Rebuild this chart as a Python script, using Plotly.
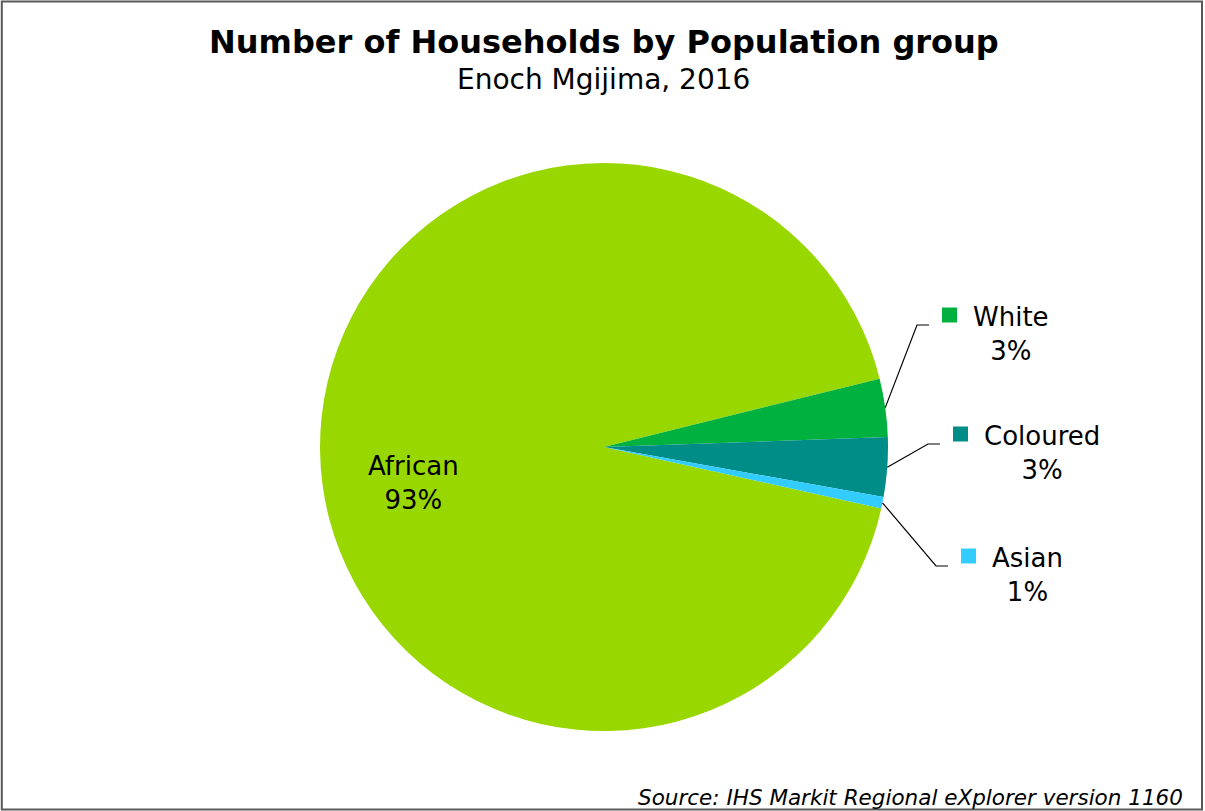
import math
import plotly.graph_objects as go

# ---------------- data ----------------
GROUPS = ["African", "White", "Coloured", "Asian"]
SHARES = [92.66, 3.31, 3.38, 0.65]          # % of households
COLORS = ["#99D700", "#00B140", "#008C87", "#33CCFF"]
TITLE = "Number of Households by Population group"
SUBTITLE = "Enoch Mgijima, 2016"
SOURCE = "Source: IHS Markit Regional eXplorer version 1160"

# ---------------- layout constants (pixels) ----------------
W, H = 1205, 811
CX, CY, R = 604, 447, 284
ROTATION = 102.5
LABEL_END = {"White": (929, 325), "Coloured": (940, 444), "Asian": (948, 566)}
INSIDE_LABEL = {"African": (413, 483)}
FONT = "Verdana, DejaVu Sans, sans-serif"
LABEL_SIZE = 26


def px(x):
    return x / W


def py(y):
    return 1 - y / H


total = sum(SHARES)
pct = [f"{round(v / total * 100):.0f}%" for v in SHARES]

fig = go.Figure()
fig.add_trace(go.Pie(
    labels=GROUPS,
    values=SHARES,
    marker=dict(colors=COLORS, line=dict(width=0)),
    sort=False,
    direction="clockwise",
    rotation=ROTATION,
    textinfo="none",
    hoverinfo="label+percent",
    showlegend=False,
    domain=dict(x=[px(CX - R), px(CX + R)], y=[py(CY + R), py(CY - R)]),
))

shapes = []
annotations = []

# slice angles (clockwise from 12 o'clock)
angle = ROTATION
for name, v, col, p in zip(GROUPS, SHARES, COLORS, pct):
    span = 360 * v / total
    mid = math.radians(angle + span / 2)
    angle += span
    if name in LABEL_END:
        xe, ye = LABEL_END[name]
        ax = CX + R * math.sin(mid)
        ay = CY - R * math.cos(mid)
        path = (f"M {px(ax)},{py(ay)} L {px(xe - 12)},{py(ye)} L {px(xe)},{py(ye)}")
        shapes.append(dict(type="path", xref="paper", yref="paper", path=path,
                           line=dict(color="#000000", width=1.2)))
        shapes.append(dict(type="rect", xref="paper", yref="paper",
                           x0=px(xe + 13), x1=px(xe + 28),
                           y0=py(ye - 2.5), y1=py(ye - 17.5),
                           fillcolor=col, line=dict(width=0)))
        annotations.append(dict(xref="paper", yref="paper", x=px(xe + 42), y=py(ye + 9),
                                xanchor="left", yanchor="middle", align="center",
                                text=f"{name}<br>{p}", showarrow=False,
                                font=dict(family=FONT, size=LABEL_SIZE, color="#000000")))
    elif name in INSIDE_LABEL:
        lx, ly = INSIDE_LABEL[name]
        annotations.append(dict(xref="paper", yref="paper", x=px(lx), y=py(ly),
                                xanchor="center", yanchor="middle", align="center",
                                text=f"{name}<br>{p}", showarrow=False,
                                font=dict(family=FONT, size=LABEL_SIZE, color="#000000")))

# titles
annotations.append(dict(xref="paper", yref="paper", x=px(604), y=py(42),
                        xanchor="center", yanchor="middle", showarrow=False,
                        text=f"<b>{TITLE}</b>",
                        font=dict(family=FONT, size=32, color="#000000")))
annotations.append(dict(xref="paper", yref="paper", x=px(603), y=py(79),
                        xanchor="center", yanchor="middle", showarrow=False,
                        text=SUBTITLE,
                        font=dict(family=FONT, size=28, color="#000000")))
annotations.append(dict(xref="paper", yref="paper", x=px(1185), y=py(797),
                        xanchor="right", yanchor="middle", showarrow=False,
                        text=f"<i>{SOURCE}</i>",
                        font=dict(family=FONT, size=21.5, color="#000000")))

# chart frame
shapes.append(dict(type="rect", xref="paper", yref="paper",
                   x0=px(1.8), x1=px(1202), y0=py(809.5), y1=py(1.5),
                   line=dict(color="#595959", width=2), layer="above"))

fig.update_layout(
    width=W, height=H, autosize=False,
    margin=dict(l=0, r=0, t=0, b=0),
    paper_bgcolor="#FFFFFF", plot_bgcolor="#FFFFFF",
    shapes=shapes, annotations=annotations,
)

fig.write_html("out.html")
